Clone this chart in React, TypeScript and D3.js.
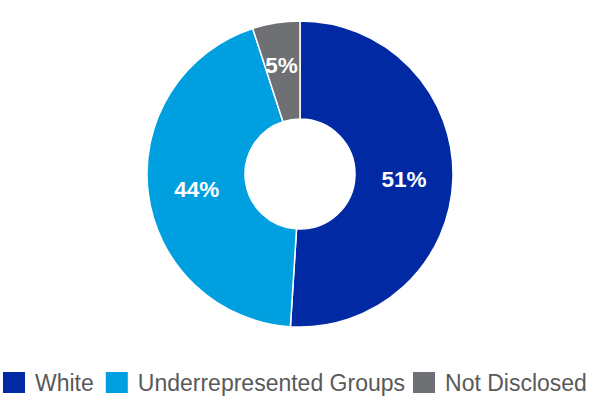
import React, { useEffect, useRef } from "react";
import * as d3 from "d3";

const categories = ["White", "Underrepresented Groups", "Not Disclosed"];
const values = [51, 44, 5];
const labels = ["51%", "44%", "5%"];
const colors = ["#0029A3", "#009FE0", "#6E7073"];

export default function App() {
  const ref = useRef<SVGSVGElement | null>(null);

  useEffect(() => {
    document.body.style.margin = "0";
    const svg = d3.select(ref.current);
    svg.selectAll("*").remove();

    const cx = 300, cy = 174, outerR = 153, innerR = 55;
    const pie = d3.pie<number>().sort(null).value((d) => d);
    const arcs = pie(values);
    const arc = d3.arc<d3.PieArcDatum<number>>().innerRadius(innerR).outerRadius(outerR);
    const labelArc = d3.arc<d3.PieArcDatum<number>>().innerRadius(innerR + 8).outerRadius(outerR + 8);

    const g = svg.append("g").attr("transform", `translate(${cx},${cy})`);
    g.selectAll("path")
      .data(arcs)
      .join("path")
      .attr("d", arc as any)
      .attr("fill", (_d, i) => colors[i])
      .attr("stroke", "#fff")
      .attr("stroke-width", 1.5);

    g.selectAll("text")
      .data(arcs)
      .join("text")
      .attr("transform", (d, i) => {
        const [x, y] = (i === 2 ? labelArc : arc).centroid(d);
        return `translate(${x - (i === 2 ? 1 : 0)},${y + 2})`;
      })
      .attr("text-anchor", "middle")
      .attr("dominant-baseline", "central")
      .attr("fill", "#fff")
      .attr("font-family", "Liberation Sans, Arial, sans-serif")
      .attr("font-weight", "bold")
      .attr("font-size", 22.5)
      .text((_d, i) => labels[i]);

    const legend = svg.append("g");
    let x = 3;
    const sq = 22;
    const ly = 372;
    const gaps = [12, 8, 0];
    categories.forEach((c, i) => {
      legend.append("rect").attr("x", x).attr("y", ly).attr("width", sq).attr("height", 21).attr("fill", colors[i]);
      const t = legend
        .append("text")
        .attr("x", x + sq + 10)
        .attr("y", ly + 19)
        .attr("fill", "#595959")
        .attr("font-family", "Liberation Sans, Arial, sans-serif")
        .attr("font-size", 23)
        .text(c);
      const w = (t.node() as SVGTextElement).getComputedTextLength();
      x = x + sq + 10 + w + gaps[i];
    });
  }, []);

  return <svg ref={ref} width={600} height={400} style={{ display: "block" }} />;
}
